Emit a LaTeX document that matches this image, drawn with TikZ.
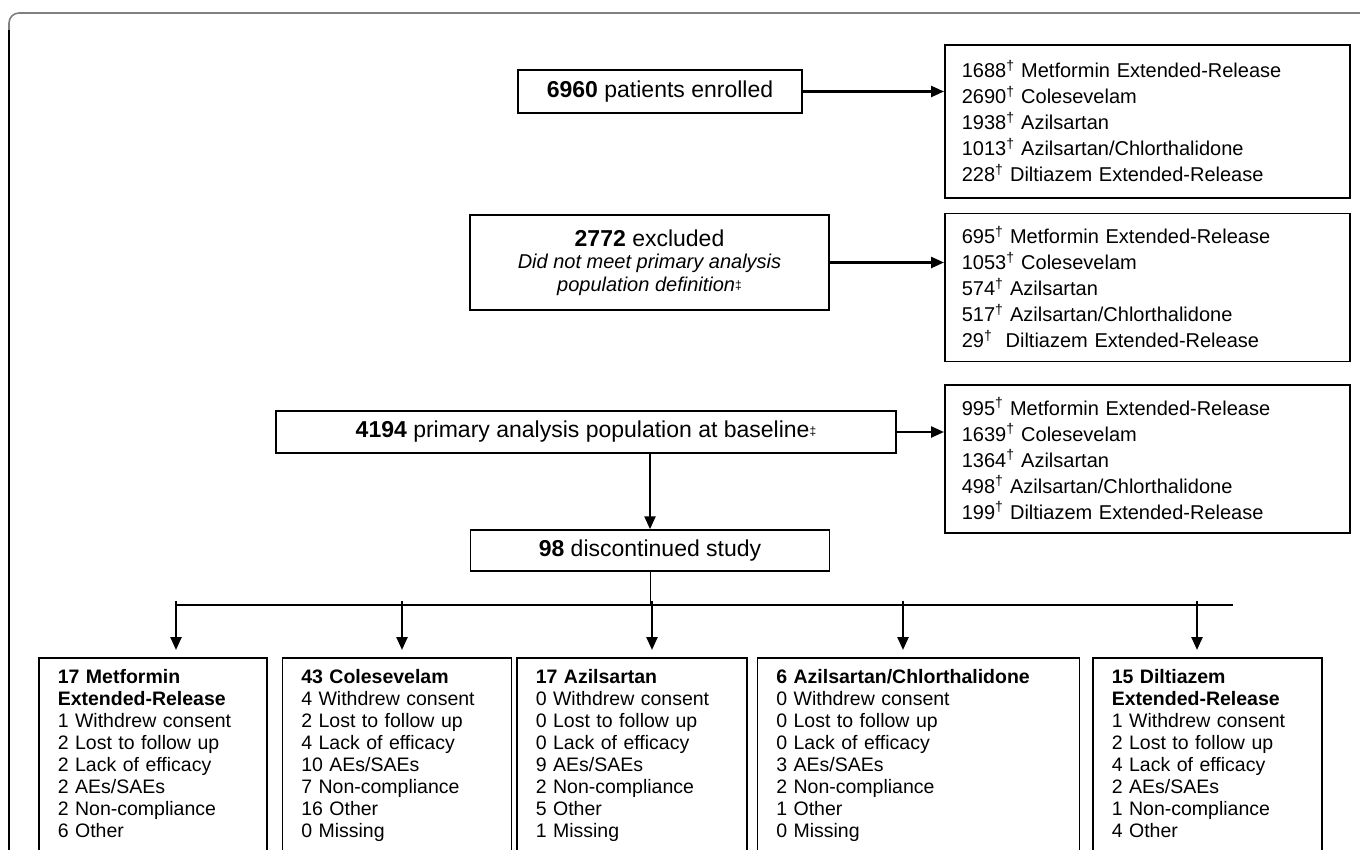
\documentclass[tikz,border=0pt]{standalone}
\usepackage{fontspec}
\setmainfont{Liberation Sans}
\usetikzlibrary{positioning, arrows.meta}

\newcommand{\armdag}{\textsuperscript{†}}
\newcommand{\popddag}{\raisebox{2pt}{\fontsize{12}{12}\selectfont ‡}}

\tikzset{
  box/.style={draw, line width=1.5pt, inner sep=0pt},
  stage/.style={box, font=\fontsize{23}{26}\selectfont},
  arms/.style={box, anchor=north west, minimum width=405pt, minimum height=148pt, text width=371pt, inner xsep=17pt, align=left, font=\fontsize{20}{26}\selectfont},
  reason/.style={box, anchor=north west, inner xsep=19pt, inner ysep=12pt, text depth=200pt, align=left, font=\fontsize{19.5}{22}\selectfont},
  flow/.style={line width=2.4pt, -{Triangle[length=13pt,width=11pt]}},
  bus/.style={line width=1.2pt},
}

\begin{document}
\begin{tikzpicture}[x=1pt, y=-1pt]
  \useasboundingbox (0,0) rectangle (1360,849);
  \clip (0,0) rectangle (1360,849);
  \draw[black!50, line width=1.6pt, rounded corners=10pt] (9,870) |- (1380,13);
  \draw[line width=1.2pt] (9,870) -- (9,30);

  \node[stage, minimum width=284pt, minimum height=43pt] (enrolled) at (660,91.5) {\textbf{6960} patients enrolled};
  \node[arms, minimum height=153pt] (armsall) at (944,44) {1688\armdag{} Metformin Extended-Release\\2690\armdag{} Colesevelam\\1938\armdag{} Azilsartan\\1013\armdag{} Azilsartan/Chlorthalidone\\228\armdag{} Diltiazem Extended-Release};
  \node[box, minimum width=359pt, minimum height=95pt, align=center, font=\fontsize{20}{22.5}\selectfont] (excluded) at (649.5,262.5) {{\fontsize{23}{23}\selectfont\textbf{2772} excluded}\\\textit{Did not meet primary analysis}\\\textit{population definition}\popddag};
  \node[arms, below=14pt of armsall] (armsexcl) {695\armdag{} Metformin Extended-Release\\1053\armdag{} Colesevelam\\574\armdag{} Azilsartan\\517\armdag{} Azilsartan/Chlorthalidone\\29\armdag\ \ Diltiazem Extended-Release};
  \node[stage, minimum width=620pt, minimum height=42pt] (baseline) at (586,432) {\textbf{4194} primary analysis population at baseline\popddag};
  \node[arms, below=22pt of armsexcl] (armsbase) {995\armdag{} Metformin Extended-Release\\1639\armdag{} Colesevelam\\1364\armdag{} Azilsartan\\498\armdag{} Azilsartan/Chlorthalidone\\199\armdag{} Diltiazem Extended-Release};
  \node[stage, minimum width=359pt, minimum height=41pt] (discont) at (650,550.5) {\textbf{98} discontinued study};

  \node[reason, text width=190pt] (metf) at (38,657) {\textbf{17 Metformin}\\\textbf{Extended-Release}\\1 Withdrew consent\\2 Lost to follow up\\2 Lack of efficacy\\2 AEs/SAEs\\2 Non-compliance\\6 Other};
  \node[reason, text width=191pt, right=14pt of metf] (cole) {\textbf{43 Colesevelam}\\4 Withdrew consent\\2 Lost to follow up\\4 Lack of efficacy\\10 AEs/SAEs\\7 Non-compliance\\16 Other\\0 Missing};
  \node[reason, text width=192pt, right=4pt of cole] (azil) {\textbf{17 Azilsartan}\\0 Withdrew consent\\0 Lost to follow up\\0 Lack of efficacy\\9 AEs/SAEs\\2 Non-compliance\\5 Other\\1 Missing};
  \node[reason, text width=284pt, right=9pt of azil] (azch) {\textbf{6 Azilsartan/Chlorthalidone}\\0 Withdrew consent\\0 Lost to follow up\\0 Lack of efficacy\\3 AEs/SAEs\\2 Non-compliance\\1 Other\\0 Missing};
  \node[reason, text width=191pt, right=12pt of azch] (dilt) {\textbf{15 Diltiazem}\\\textbf{Extended-Release}\\1 Withdrew consent\\2 Lost to follow up\\4 Lack of efficacy\\2 AEs/SAEs\\1 Non-compliance\\4 Other};

  \draw[flow] (enrolled) -- (enrolled.east -| armsall.west);
  \draw[flow] (excluded) -- (excluded.east -| armsexcl.west);
  \draw[flow] (baseline) -- (baseline.east -| armsbase.west);
  \draw[flow] (discont.north |- baseline.south) -- (discont.north);

  \coordinate (busl) at (176,605);
  \coordinate (busr) at (1233,605);
  \draw[bus] (busl) -- (busr);
  \draw[line width=0.8pt] (discont.south) -- (discont.south |- busl);
  \foreach \x/\b [count=\i] in {176/metf,402/cole,652/azil,903/azch,1197/dilt} {
    \coordinate (tap\i) at (\x,601);
    \draw[flow, shorten >=7pt] (tap\i) -- (tap\i |- \b.north);
  }
\end{tikzpicture}
\end{document}
